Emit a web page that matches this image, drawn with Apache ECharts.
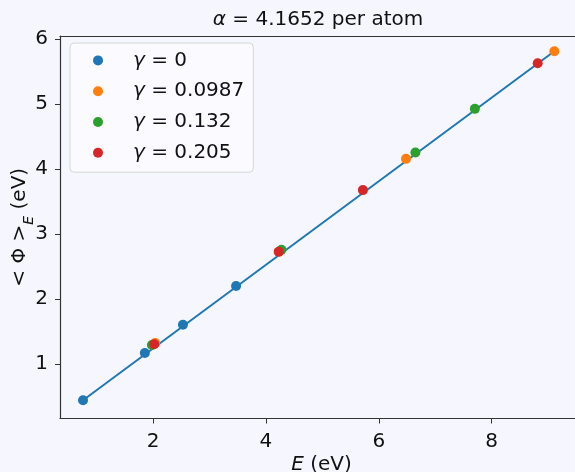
<!DOCTYPE html>
<html>
<head>
<meta charset="utf-8">
<script src="https://cdn.jsdelivr.net/npm/echarts@6/dist/echarts.min.js"></script>
<style>
html,body{margin:0;padding:0;background:#f6f7fe;}
#c{width:575px;height:472px;}
</style>
</head>
<body>
<div id="c"></div>
<script>
const seriesNames = ['γ = 0', 'γ = 0.0987', 'γ = 0.132', 'γ = 0.205'];
const colors = ['#1f77b4', '#ff7f0e', '#2ca02c', '#d62728'];
const E_g0 = [0.758, 1.854, 2.529, 3.471];
const P_g0 = [0.44, 1.169, 1.605, 2.200];
const E_g1 = [2.037, 4.23, 6.483, 9.112];
const P_g1 = [1.323, 2.728, 4.158, 5.815];
const E_g2 = [1.979, 4.275, 6.65, 7.703];
const P_g2 = [1.292, 2.758, 4.255, 4.928];
const E_g3 = [2.02, 4.227, 5.719, 8.817];
const P_g3 = [1.302, 2.728, 3.677, 5.631];
const fitE = [0.758, 9.112];
const fitP = [0.44, 5.815];
const xTicks = [2, 4, 6, 8];
const yTicks = [1, 2, 3, 4, 5, 6];

const font = 'DejaVu Sans';
const fs = 20;
const zip = (a, b) => a.map((v, i) => [v, b[i]]);
const Es = [E_g0, E_g1, E_g2, E_g3];
const Ps = [P_g0, P_g1, P_g2, P_g3];

const chart = echarts.init(document.getElementById('c'));
const series = [{
  type: 'line', name: 'fit', data: zip(fitE, fitP), showSymbol: false,
  lineStyle: {color: colors[0], width: 2}, silent: true, z: 1
}];
seriesNames.forEach((n, i) => series.push({
  type: 'scatter', name: n, data: zip(Es[i], Ps[i]), symbolSize: 10,
  itemStyle: {color: colors[i], opacity: 1}, z: 2 + i
}));

const xMin = 0.35, xMax = 9.62;

chart.setOption({
  backgroundColor: '#f6f7fe',
  animation: false,
  title: {
    text: '{i|α} = 4.1652 per atom', left: 313, top: 5, textAlign: 'center',
    textStyle: {
      fontFamily: font, fontSize: fs, fontWeight: 'normal', color: '#111',
      rich: {i: {fontFamily: font, fontStyle: 'italic', fontSize: fs, color: '#111'}}
    }
  },
  grid: {left: 60, right: -8, top: 36, bottom: 53.5, show: false,
    outerBoundsMode: 'none', containLabel: false},
  legend: {
    data: seriesNames, orient: 'vertical', left: 70, top: 43,
    icon: 'circle', itemWidth: 10, itemHeight: 10, itemGap: 6.8,
    padding: [5.4, 9, 7.4, 23],
    backgroundColor: '#fbfbff', borderColor: '#d6d6d6', borderWidth: 1, borderRadius: 4,
    formatter: n => '{i|γ}' + n.slice(1),
    textStyle: {
      fontFamily: font, fontSize: fs, color: '#111', lineHeight: 24, padding: [0, 0, 0, 25],
      rich: {i: {fontFamily: font, fontStyle: 'italic', fontSize: fs, color: '#111', lineHeight: 24}}
    }
  },
  xAxis: [{
    type: 'value', min: xMin, max: xMax,
    name: '{i|E} (eV)', nameLocation: 'middle', nameGap: 36, nameMoveOverlap: false,
    nameTextStyle: {fontFamily: font, fontSize: fs, color: '#111',
      rich: {i: {fontFamily: font, fontStyle: 'italic', fontSize: fs, color: '#111'}}},
    axisLine: {show: true, lineStyle: {color: '#333', width: 1.2}},
    axisTick: {show: true, length: 5, inside: false, customValues: xTicks, lineStyle: {color: '#333'}},
    axisLabel: {customValues: xTicks, fontFamily: font, fontSize: fs, color: '#111', margin: 13},
    splitLine: {show: false}
  }, {
    type: 'value', position: 'top', min: xMin, max: xMax,
    axisLine: {show: true, lineStyle: {color: '#333', width: 1.2}},
    axisTick: {show: false}, axisLabel: {show: false}, splitLine: {show: false}
  }],
  yAxis: {
    type: 'value', min: 0.16, max: 6.05,
    name: '{n|< Φ >}{s|E}{n| (eV)}', nameLocation: 'middle', nameGap: 28, nameMoveOverlap: false,
    nameTextStyle: {fontFamily: font, fontSize: fs, color: '#111',
      rich: {
        n: {fontFamily: font, fontSize: fs, color: '#111', lineHeight: 24},
        s: {fontFamily: font, fontSize: 14, fontStyle: 'italic', color: '#111', verticalAlign: 'bottom', lineHeight: 12, padding: [0, 0, -4, 0]}
      }},
    axisLine: {show: true, lineStyle: {color: '#333', width: 1.2}},
    axisTick: {show: true, length: 5, inside: false, customValues: yTicks, lineStyle: {color: '#333'}},
    axisLabel: {customValues: yTicks, fontFamily: font, fontSize: fs, color: '#111', margin: 12},
    splitLine: {show: false}
  },
  series: series
});
</script>
</body>
</html>
